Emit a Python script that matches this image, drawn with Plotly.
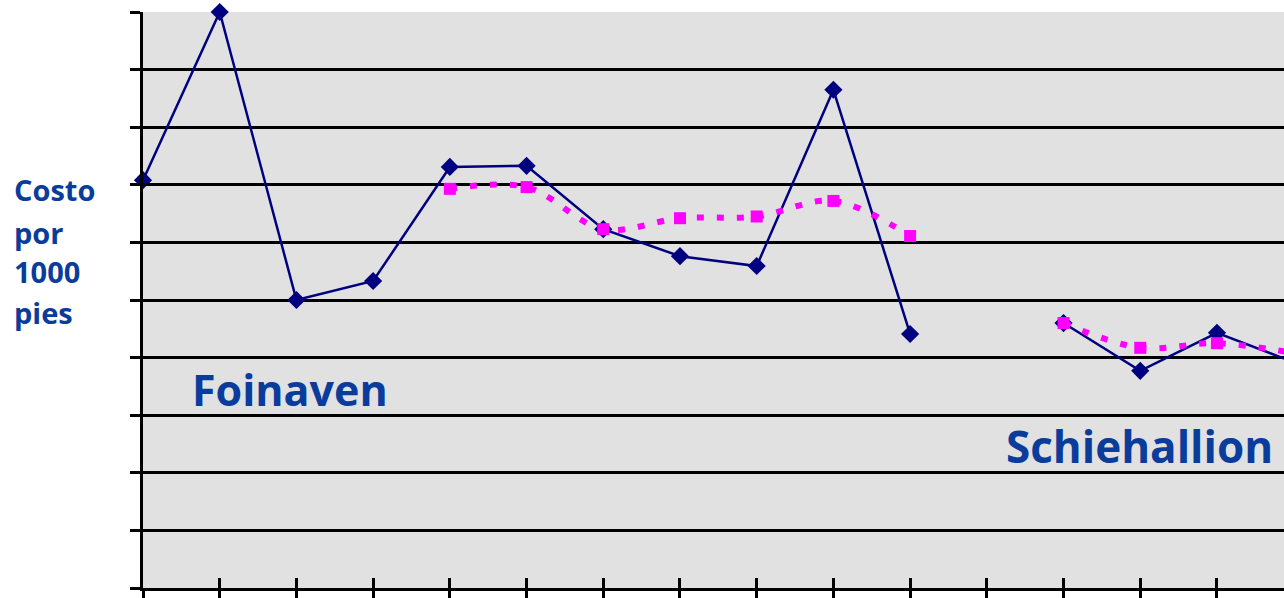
import plotly.graph_objects as go

# Well positions along the horizontal axis (one slot per well)
positions = list(range(16))

# Cost per 1000 ft — actual values per well
cost_actual = [7.08, 10.0, 5.0, 5.33, 7.31, 7.33, 6.23, 5.76, 5.59, 8.65, 4.41,
               None, 4.60, 3.77, 4.43, 3.92]

# Cost per 1000 ft — trend curve
cost_trend = [None, None, None, None, 6.93, 6.96, 6.23, 6.42, 6.45, 6.72, 6.11,
              None, 4.60, 4.17, 4.25, 4.08]

y_ticks = list(range(0, 11))
title_lines = ["Costo", "por", "1000", "pies"]
title_line_y = [6.91, 6.18, 5.49, 4.79]

TEXT_BLUE = "#0A3C9C"
FONT = "Open Sans"
X_RANGE = [0, 14.874]
Y_RANGE = [0, 10]

fig = go.Figure()

fig.add_trace(go.Scatter(
    x=positions, y=cost_actual, mode="lines+markers",
    line=dict(color="#000080", width=2.5),
    marker=dict(symbol="diamond", size=14, color="#000080"),
    connectgaps=False, cliponaxis=False, showlegend=False,
))

fig.add_trace(go.Scatter(
    x=positions, y=cost_trend, mode="lines+markers",
    line=dict(color="#FF00FF", width=6, dash="7px,13px", shape="spline", smoothing=1),
    marker=dict(symbol="square", size=12, color="#FF00FF"),
    connectgaps=False, cliponaxis=False, showlegend=False,
))

# Invisible trace carrying the overlay axes (inner half of the crossing tick marks)
fig.add_trace(go.Scatter(x=[None], y=[None], xaxis="x2", yaxis="y2",
                         mode="markers", showlegend=False, hoverinfo="skip"))

# Field labels
fig.add_annotation(x=0.613, y=3.44, xref="x", yref="y", text="<b>Foinaven</b>",
                   showarrow=False, xanchor="left", yanchor="middle",
                   font=dict(family=FONT, size=43, color=TEXT_BLUE))
fig.add_annotation(x=11.22, y=2.47, xref="x", yref="y", text="<b>Schiehallion</b>",
                   showarrow=False, xanchor="left", yanchor="middle",
                   font=dict(family=FONT, size=44, color=TEXT_BLUE))

# Vertical axis title, one line per annotation
for line, yv in zip(title_lines, title_line_y):
    fig.add_annotation(x=-0.1148, y=yv, xref="paper", yref="y", text=f"<b>{line}</b>",
                       showarrow=False, xanchor="left", yanchor="middle",
                       font=dict(family=FONT, size=29, color=TEXT_BLUE))

axis_common = dict(showticklabels=False, tickcolor="black", tickwidth=2.5, zeroline=False)

fig.update_layout(
    width=1284, height=598,
    margin=dict(l=143, r=0, t=12, b=10),
    paper_bgcolor="white", plot_bgcolor="#E1E1E1",
    xaxis=dict(range=X_RANGE, tickmode="array", tickvals=positions,
               ticks="outside", ticklen=10, showgrid=False,
               showline=True, linecolor="black", linewidth=3, **axis_common),
    yaxis=dict(range=Y_RANGE, tickmode="array", tickvals=y_ticks,
               ticks="outside", ticklen=10,
               showgrid=True, gridcolor="black", gridwidth=2.5,
               showline=True, linecolor="black", linewidth=3, **axis_common),
    xaxis2=dict(range=X_RANGE, tickmode="array", tickvals=positions, overlaying="x",
                anchor="y", ticks="inside", ticklen=10, showgrid=False, showline=False,
                **axis_common),
    yaxis2=dict(range=Y_RANGE, tickmode="array", tickvals=y_ticks, overlaying="y",
                anchor="x", ticks="inside", ticklen=7, showgrid=False, showline=False,
                **axis_common),
)

fig.write_html("out.html")
